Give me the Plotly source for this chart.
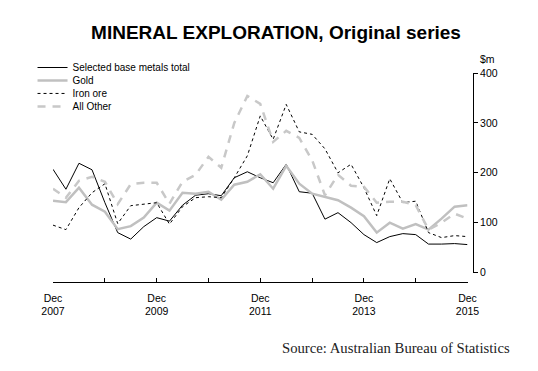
import plotly.graph_objects as go

# Quarterly, Dec 2007 .. Dec 2015
quarters = []
for y in range(2007, 2016):
    for m in (3, 6, 9, 12):
        if (y == 2007 and m < 12):
            continue
        quarters.append(f"{y}-{m:02d}-01")

base_metals = [207, 167, 219, 206, 140, 80, 67, 92, 110, 103, 135, 155, 158, 154, 190, 202,
               190, 180, 217, 162, 159, 107, 120, 100, 76, 60, 72, 78, 76, 57, 57, 58, 56]
gold = [144, 141, 170, 136, 122, 87, 93, 110, 140, 124, 160, 158, 162, 146, 176, 182,
        197, 168, 214, 178, 158, 152, 145, 130, 113, 80, 100, 88, 97, 86, 108, 132, 135]
iron_ore = [95, 86, 130, 160, 178, 98, 134, 137, 140, 97, 132, 150, 152, 150, 190, 234,
            314, 267, 337, 282, 277, 248, 200, 217, 170, 114, 188, 140, 143, 80, 70, 74, 72]
all_other = [168, 150, 184, 192, 182, 137, 177, 180, 180, 138, 182, 196, 232, 210, 300, 354,
             338, 262, 284, 270, 225, 155, 196, 174, 172, 140, 142, 142, 135, 86, 100, 118, 108]

series_names = ["Selected base metals total", "Gold", "Iron ore", "All Other"]

tick_dates = [f"{y}-12-01" for y in range(2007, 2016)]
tick_text = [f"Dec<br>{y}" if (y % 2 == 1) else "" for y in range(2007, 2016)]
y_ticks = [0, 100, 200, 300, 400]

# page offset of the figure inside the browser page
OX, OY = 8, 9
W, H = 538 - 2 * OX, 371 - OY - 8

# targets in page pixels
plot_left, plot_right_x, axis_y_x = 52.5, 467.5, 473
top_px, zero_px, xaxis_px = 73.5, 273.5, 283

ml = plot_left - OX
mr = W - (axis_y_x - OX)
mt = top_px - OY
mb = H - (xaxis_px - OY)
pw = W - ml - mr
ph = H - mt - mb

def py(page_y):
    return (xaxis_px - page_y) / ph

def pxx(page_x):
    return (page_x - plot_left) / pw

font = "Arial, Liberation Sans, sans-serif"

styles = [
    dict(color="black", width=1),
    dict(color="#c0c0c0", width=2.5),
    dict(color="black", width=1, dash="3px,3px"),
    dict(color="#c8c8c8", width=2.5, dash="8px,7px"),
]
data = [base_metals, gold, iron_ore, all_other]
legends = ["legend", "legend2", "legend3", "legend4"]
rows = [68, 81, 94, 107]

fig = go.Figure()
for name, vals, st, lg in zip(series_names, data, styles, legends):
    fig.add_trace(go.Scatter(x=quarters, y=vals, mode="lines", name=name,
                             line=st, legend=lg, showlegend=True))

layout = dict(
    width=W, height=H,
    showlegend=True,
    margin=dict(l=ml, r=mr, t=mt, b=mb, pad=0, autoexpand=False),
    paper_bgcolor="white", plot_bgcolor="white",
    title=dict(text="<b>MINERAL EXPLORATION, Original series</b>",
               font=dict(family=font, size=19, color="black"),
               x=(276 - OX) / W, xanchor="center", xref="container",
               y=1 - (33 - OY) / H, yanchor="middle", yref="container"),
    xaxis=dict(type="date", range=[quarters[0], quarters[-1]],
               domain=[0, (plot_right_x - plot_left) / pw], anchor="free", position=0,
               showgrid=False, zeroline=False, showline=True, linecolor="black", linewidth=1,
               ticks="inside", ticklen=4, tickcolor="black", tickwidth=1,
               tickvals=tick_dates, ticktext=tick_text, ticklabelstandoff=6,
               tickfont=dict(family=font, size=10.5, color="black"), automargin=False),
    yaxis=dict(range=[0, 400], domain=[(xaxis_px - zero_px) / ph, 1],
               side="right", anchor="free", position=1,
               showgrid=False, zeroline=False, showline=True, linecolor="black", linewidth=1,
               ticks="outside", ticklen=4, tickcolor="black", tickwidth=1,
               tickvals=y_ticks, tickfont=dict(family=font, size=10.5, color="black"),
               automargin=False),
    annotations=[
        dict(text="$m", xref="paper", yref="paper", x=pxx(478), y=py(59),
             xanchor="left", yanchor="middle", showarrow=False,
             font=dict(family=font, size=10.5, color="black")),
        dict(text="Source: Australian Bureau of Statistics", xref="paper", yref="paper",
             x=pxx(512), y=py(349), xanchor="right", yanchor="middle", showarrow=False,
             font=dict(family="Liberation Serif, serif", size=14.7, color="#222222")),
    ],
)
for lg, r in zip(legends, rows):
    layout[lg] = dict(x=pxx(32), y=py(r), xanchor="left", yanchor="middle",
                      bgcolor="rgba(0,0,0,0)", borderwidth=0,
                      font=dict(family=font, size=10, color="black"))
fig.update_layout(**layout)

fig.write_html("out.html")
